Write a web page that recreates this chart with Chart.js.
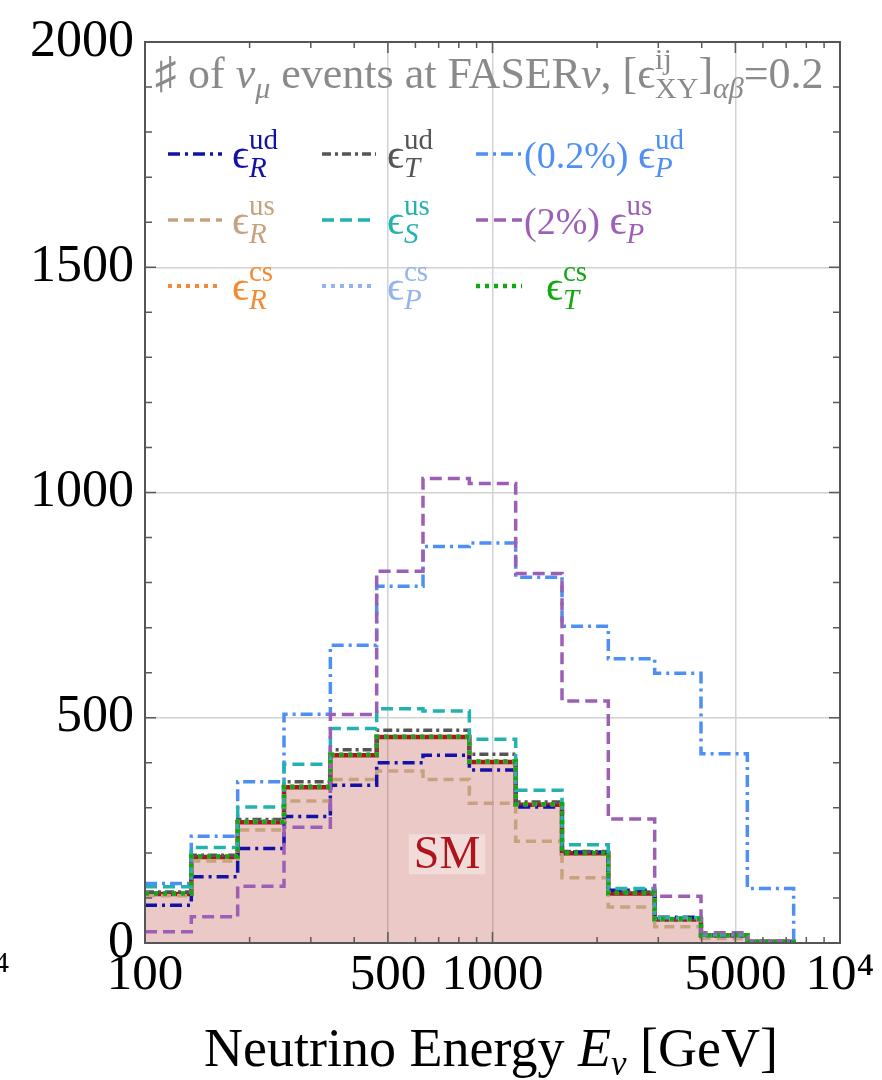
<!DOCTYPE html>
<html><head><meta charset="utf-8">
<script src="https://cdn.jsdelivr.net/npm/chart.js@4.4.1/dist/chart.umd.min.js"></script>
<style>html,body{margin:0;padding:0;background:#fff;}#wrap{width:882px;height:1080px;position:relative;}</style>
</head><body><div id="wrap"><canvas id="c"></canvas></div>
<script>
// ---- data ----
const binEdges = [100, 135.9, 184.8, 251.2, 341.5, 464.2, 631.0, 857.7, 1166, 1585, 2154, 2929, 3981, 5412, 7356];
const smEvents      = [109, 191, 268, 346, 417, 457, 457, 402, 307, 199, 110, 52, 17, 3];
const eRud          = [84, 147, 210, 281, 350, 400, 417, 384, 302, 202, 117, 57, 16, 3];
const eTud          = [113, 195, 274, 358, 429, 472, 472, 419, 313, 203, 113, 53, 18, 3];
const ePud_0p2      = [132, 237, 358, 508, 661, 792, 880, 888, 812, 703, 631, 599, 420, 121];
const eRus          = [105, 182, 251, 315, 363, 382, 363, 310, 226, 145, 80, 36, 10, 2];
const eSus          = [125, 212, 302, 397, 476, 520, 515, 452, 339, 218, 121, 56, 18, 3];
const ePus_2        = [25, 58, 126, 257, 507, 825, 1031, 1020, 820, 537, 275, 104, 23, 5];
const eRcs          = [110, 192, 269, 347, 418, 458, 458, 403, 308, 200, 111, 52, 17, 3];
const ePcs          = [110, 192, 269, 347, 418, 458, 458, 403, 308, 200, 111, 52, 17, 3];
const eTcs          = [110, 192, 269, 347, 418, 458, 458, 403, 308, 200, 111, 53, 17, 3];

const xTickValues = [100,200,300,400,500,600,700,800,900,1000,2000,3000,4000,5000,6000,7000,8000,9000,10000];
const xTickLabels = {100:'100', 500:'500', 1000:'1000', 5000:'5000', 10000:'10\u2074'};
const xGridValues = [500, 1000, 5000];
const yTickValues = [0,100,200,300,400,500,600,700,800,900,1000,1100,1200,1300,1400,1500,1600,1700,1800,1900,2000];
const yTickLabels = [0, 500, 1000, 1500, 2000];
const yGridValues = [500, 1000, 1500];

const SERIF = "'Liberation Serif','DejaVu Serif',serif";
function fnt(size, italic, bold){ return (italic?'italic ':'') + (bold?'bold ':'') + size + 'px ' + SERIF; }

function stepData(vals){
  const pts = vals.map((v,i)=>({x:binEdges[i], y:v}));
  pts.push({x:binEdges[vals.length], y:0});
  return pts;
}

function ds(label, vals, color, dash, width, order, leg){
  return Object.assign({
    label, data: stepData(vals), borderColor: color, borderDash: dash, borderWidth: width,
    stepped: 'before', pointRadius: 0, fill: false, order, borderCapStyle: 'butt'
  }, leg);
}

const datasets = [
  ds('ϵ_R^ud', eRud, '#1212a6', [12,5,3,5], 3.5, 6, {legPrefix:'', legSup:'ud', legSub:'R', legRow:0, legCol:0}),
  ds('ϵ_T^ud', eTud, '#555555', [9,4,3,4], 3.5, 5, {legPrefix:'', legSup:'ud', legSub:'T', legRow:0, legCol:1}),
  ds('(0.2%) ϵ_P^ud', ePud_0p2, '#4d8ff5', [12,5,3,5], 3.5, 7, {legPrefix:'(0.2%) ', legSup:'ud', legSub:'P', legRow:0, legCol:2}),
  ds('ϵ_R^us', eRus, '#c6a27e', [10,6], 3.5, 8, {legPrefix:'', legSup:'us', legSub:'R', legRow:1, legCol:0}),
  ds('ϵ_S^us', eSus, '#22b2b0', [12,6], 3.5, 4, {legPrefix:'', legSup:'us', legSub:'S', legRow:1, legCol:1}),
  ds('(2%) ϵ_P^us', ePus_2, '#9d5fb6', [12,6], 3.5, 3, {legPrefix:'(2%) ', legSup:'us', legSub:'P', legRow:1, legCol:2}),
  ds('ϵ_R^cs', eRcs, '#f58a33', [4,5], 4, 2, {legPrefix:'', legSup:'cs', legSub:'R', legRow:2, legCol:0}),
  ds('ϵ_P^cs', ePcs, '#94b4ee', [4,5], 4, 1, {legPrefix:'', legSup:'cs', legSub:'P', legRow:2, legCol:1}),
  ds('ϵ_T^cs', eTcs, '#12a812', [4,5], 4.5, 0, {legPrefix:'', legSup:'cs', legSub:'T', legRow:2, legCol:2}),
  {label:'SM', data: stepData(smEvents), borderColor:'#b0141a', borderWidth:4.5, stepped:'before',
   pointRadius:0, fill:'origin', backgroundColor:'rgba(178,60,50,0.28)', order: 20, isSM:true}
];

function drawParts(ctx, x, base, parts, draw){
  let cx = x;
  for (const p of parts){
    if (p.sup !== undefined){
      ctx.font = fnt(p.size, p.supItalic);
      const w1 = ctx.measureText(p.sup).width;
      if (draw) ctx.fillText(p.sup, cx, base + p.supDy);
      ctx.font = fnt(p.size, p.subItalic);
      const w2 = ctx.measureText(p.sub).width;
      if (draw) ctx.fillText(p.sub, cx, base + p.subDy);
      cx += Math.max(w1, w2);
    } else {
      ctx.font = fnt(p.size, p.italic, p.bold);
      if (draw) ctx.fillText(p.t, cx, base + (p.dy||0));
      cx += ctx.measureText(p.t).width;
    }
  }
  return cx - x;
}

const decorPlugin = {
  id:'decor',
  afterDatasetsDraw(chart){
    const {ctx, chartArea:a, scales:{x, y}} = chart;
    ctx.save();
    ctx.strokeStyle = '#5a5a5a'; ctx.lineWidth = 1.5; ctx.setLineDash([]);
    for (const v of xTickValues){
      const px = x.getPixelForValue(v);
      const L = xTickLabels[v] ? 11 : 6;
      ctx.beginPath();
      ctx.moveTo(px, a.bottom); ctx.lineTo(px, a.bottom - L);
      ctx.moveTo(px, a.top); ctx.lineTo(px, a.top + L);
      ctx.stroke();
    }
    for (const v of yTickValues){
      const py = y.getPixelForValue(v);
      const L = yTickLabels.includes(v) ? 11 : 7;
      ctx.beginPath();
      ctx.moveTo(a.left, py); ctx.lineTo(a.left + L, py);
      ctx.moveTo(a.right, py); ctx.lineTo(a.right - L, py);
      ctx.stroke();
    }
    ctx.strokeStyle = '#555'; ctx.lineWidth = 2;
    ctx.strokeRect(a.left, a.top, a.width, a.height);
    ctx.restore();
  },
  afterDraw(chart){
    const {ctx, chartArea:a, scales:{x, y}} = chart;
    ctx.save();
    ctx.textBaseline = 'alphabetic'; ctx.textAlign = 'left';
    // inner title
    ctx.fillStyle = '#8a8a8a';
    drawParts(ctx, a.left + 10, 88, [
      {t:'\u266F of ', size:44}, {t:'\u03BD', size:44, italic:true}, {t:'\u03BC', size:30, italic:true, dy:10},
      {t:' events at FASER', size:44}, {t:'\u03BD', size:44, italic:true}, {t:', [\u03F5', size:44},
      {sup:'ij', sub:'XY', size:30, supDy:-19, subDy:10},
      {t:']', size:44}, {t:'\u03B1\u03B2', size:30, italic:true, dy:10}, {t:'=0.2', size:44}
    ], true);
    // legend
    const cols = [{lx:168, len:54, tx:232}, {lx:322, len:54, tx:387}, {lx:476, len:46, tx:null}];
    const rowBase = [168, 234, 300];
    chart.data.datasets.forEach(d => {
      if (d.isSM) return;
      const c = cols[d.legCol], base = rowBase[d.legRow];
      ctx.strokeStyle = d.borderColor; ctx.lineWidth = d.borderWidth; ctx.setLineDash(d.borderDash);
      ctx.beginPath(); ctx.moveTo(c.lx, base - 14); ctx.lineTo(c.lx + c.len, base - 14); ctx.stroke();
      ctx.setLineDash([]);
      const tx = c.tx !== null ? c.tx : (d.legPrefix ? c.lx + c.len + 2 : c.lx + c.len + 24);
      ctx.fillStyle = d.borderColor;
      const parts = [];
      if (d.legPrefix) parts.push({t:d.legPrefix, size:38});
      parts.push({t:'\u03F5', size:42});
      parts.push({sup:d.legSup, sub:d.legSub, size:29, supDy:-19, subDy:9, subItalic:true});
      drawParts(ctx, tx, base, parts, true);
    });
    // x axis title
    ctx.fillStyle = '#000';
    const tparts = [{t:'Neutrino Energy ', size:54}, {t:'E', size:54, italic:true},
                    {t:'\u03BD', size:35, italic:true, dy:9}, {t:' [GeV]', size:54}];
    const w = drawParts(ctx, 0, 0, tparts, false);
    drawParts(ctx, 491 - w/2, 1066, tparts, true);
    // SM label
    const sx = x.getPixelForValue(740), sy = y.getPixelForValue(197);
    ctx.font = fnt(46, false, false);
    const sw = ctx.measureText('SM').width;
    ctx.fillStyle = 'rgba(255,255,255,0.35)';
    ctx.fillRect(sx - sw/2 - 5, sy - 20, sw + 10, 40);
    ctx.fillStyle = '#b0141a';
    ctx.textAlign = 'center'; ctx.textBaseline = 'middle';
    ctx.fillText('SM', sx, sy + 2);
    // clipped fragment of neighbouring panel label at left edge
    ctx.textAlign = 'left'; ctx.textBaseline = 'alphabetic';
    ctx.fillStyle = '#000'; ctx.font = fnt(30);
    ctx.fillText('4', -6, 972);
    ctx.restore();
  }
};

new Chart(document.getElementById('c'), {
  type: 'line',
  data: { datasets },
  options: {
    responsive: true, maintainAspectRatio: false, animation: false,
    layout: { padding: {top:42, right:42, left:0, bottom:0} },
    plugins: { legend: {display:false}, tooltip: {enabled:false} },
    scales: {
      x: {
        type: 'logarithmic', min: 100, max: 10000,
        afterBuildTicks: s => { s.ticks = xTickValues.map(v => ({value:v})); },
        afterFit: s => { s.height = 137; },
        border: {display:false},
        grid: { drawTicks:false, lineWidth:1.5,
          color: c => (c.tick && xGridValues.includes(c.tick.value)) ? '#d2d2d2' : 'rgba(0,0,0,0)' },
        ticks: { autoSkip:false, maxRotation:0, minRotation:0, padding:7, color:'#000',
          font:{family:SERIF, size:51, lineHeight:1}, callback: v => xTickLabels[v] || '' }
      },
      y: {
        min: 0, max: 2000,
        afterBuildTicks: s => { s.ticks = yTickValues.map(v => ({value:v})); },
        afterFit: s => { s.width = 145; },
        border: {display:false},
        grid: { drawTicks:false, lineWidth:1.5,
          color: c => (c.tick && yGridValues.includes(c.tick.value)) ? '#d2d2d2' : 'rgba(0,0,0,0)' },
        ticks: { autoSkip:false, padding:11, color:'#000',
          font:{family:SERIF, size:52, lineHeight:1}, callback: v => yTickLabels.includes(v) ? String(v) : '' }
      }
    }
  },
  plugins: [decorPlugin]
});
</script></body></html>
